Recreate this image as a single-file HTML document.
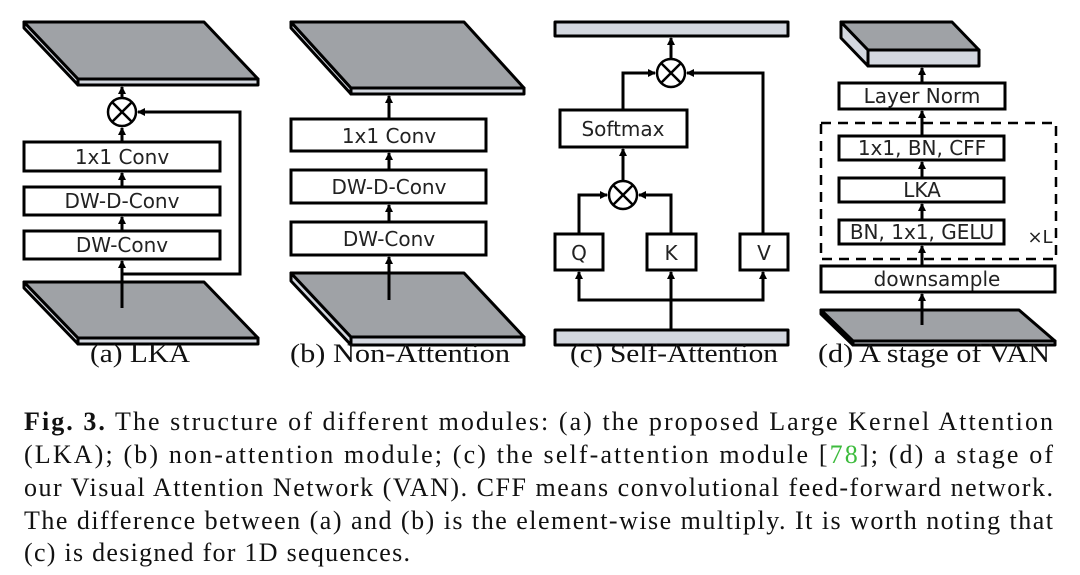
<!DOCTYPE html>
<html><head><meta charset="utf-8"><style>
html,body{margin:0;padding:0;background:#fff;}
svg{display:block;}
.b{font-family:"DejaVu Sans","Liberation Sans",sans-serif;font-size:20px;fill:#222;text-anchor:middle;}
.l{font-family:"Liberation Serif",serif;font-size:26px;fill:#111;}
.c{font-family:"Liberation Serif",serif;font-size:26px;fill:#111;}
</style></head><body>
<svg width="1080" height="575" viewBox="0 0 1080 575" xmlns="http://www.w3.org/2000/svg">
<defs><marker id="ar" markerWidth="8" markerHeight="8" refX="7" refY="4" orient="auto" markerUnits="userSpaceOnUse"><path d="M0,0 L8,4 L0,8 z" fill="#000"/></marker></defs>
<g stroke="#000" stroke-width="3" fill="none">
<g stroke-linejoin="round">
<path d="M24,22 L78,79 L78,85 L24,28 Z" fill="#d3d7df"/><rect x="78" y="79" width="180" height="6" fill="#d3d7df"/><path d="M24,22 L204,22 L258,79 L78,79 Z" fill="#9fa2a6"/>
<path d="M24,282 L78,338 L78,344 L24,288 Z" fill="#d3d7df"/><rect x="78" y="338" width="180" height="6" fill="#d3d7df"/><path d="M24,282 L204,282 L258,338 L78,338 Z" fill="#9fa2a6"/>
<path d="M291,22 L351,88 L351,94 L291,28 Z" fill="#d3d7df"/><rect x="351" y="88" width="173" height="6" fill="#d3d7df"/><path d="M291,22 L464,22 L524,88 L351,88 Z" fill="#9fa2a6"/>
<path d="M291,273 L351,337 L351,345 L291,281 Z" fill="#d3d7df"/><rect x="351" y="337" width="173" height="8" fill="#d3d7df"/><path d="M291,273 L464,273 L524,337 L351,337 Z" fill="#9fa2a6"/>
<rect x="555" y="22" width="233" height="14" fill="#d3d7df"/>
<rect x="555" y="330" width="233" height="15" fill="#d3d7df"/>
<path d="M841,22 L868,50 L868,66 L841,38 Z" fill="#d3d7df"/><rect x="868" y="50" width="111" height="16" fill="#d3d7df"/><path d="M841,22 L952,22 L979,50 L868,50 Z" fill="#9fa2a6"/>
<path d="M821,310 L853,341 L853,345 L821,314 Z" fill="#d3d7df"/><rect x="853" y="341" width="202" height="4" fill="#d3d7df"/><path d="M821,310 L1019,310 L1055,341 L853,341 Z" fill="#9fa2a6"/>
</g>
<rect x="24" y="142" width="196" height="29" fill="#fff"/>
<rect x="24" y="187" width="196" height="28" fill="#fff"/>
<rect x="24" y="231" width="196" height="28" fill="#fff"/>
<rect x="291" y="119" width="195" height="32" fill="#fff"/>
<rect x="291" y="170" width="195" height="33" fill="#fff"/>
<rect x="291" y="222" width="195" height="33" fill="#fff"/>
<rect x="560" y="110" width="127" height="37" fill="#fff"/>
<rect x="555" y="234" width="48" height="36" fill="#fff"/>
<rect x="647" y="234" width="49" height="36" fill="#fff"/>
<rect x="740" y="234" width="48" height="36" fill="#fff"/>
<rect x="839" y="83" width="166" height="26" fill="#fff"/>
<rect x="839" y="136" width="165" height="24" fill="#fff"/>
<rect x="839" y="178" width="165" height="24" fill="#fff"/>
<rect x="839" y="220" width="165" height="24" fill="#fff"/>
<rect x="821" y="266" width="234" height="26" fill="#fff"/>
<rect x="821" y="123" width="235" height="136" stroke-dasharray="10,7" stroke-width="2.5"/>
</g>
<g stroke="#000" stroke-width="3" fill="none" marker-end="url(#ar)">
<line x1="122" y1="308" x2="122" y2="261"/>
<line x1="122" y1="231" x2="122" y2="217"/>
<line x1="122" y1="187" x2="122" y2="173"/>
<line x1="122" y1="142" x2="122" y2="128"/>
<line x1="122" y1="97" x2="122" y2="87"/>
<polyline points="122,274 240,274 240,112 138,112"/>
<line x1="389" y1="300" x2="389" y2="257"/>
<line x1="389" y1="222" x2="389" y2="205"/>
<line x1="389" y1="170" x2="389" y2="153"/>
<line x1="389" y1="119" x2="389" y2="96"/>
<line x1="671" y1="330" x2="671" y2="272"/>
<polyline points="671,300 579,300 579,272"/>
<polyline points="671,300 763,300 763,272"/>
<polyline points="579,234 579,195 607,195"/>
<polyline points="671,234 671,195 639,195"/>
<line x1="623" y1="181" x2="623" y2="149"/>
<polyline points="623,110 623,73 655,73"/>
<polyline points="763,234 763,73 687,73"/>
<line x1="671" y1="59" x2="671" y2="38"/>
<line x1="922" y1="325" x2="922" y2="294"/>
<line x1="922" y1="266" x2="922" y2="246"/>
<line x1="922" y1="220" x2="922" y2="204"/>
<line x1="922" y1="178" x2="922" y2="162"/>
<line x1="922" y1="136" x2="922" y2="111"/>
<line x1="922" y1="83" x2="922" y2="68"/>
</g>
<g stroke="#000" stroke-width="2.5" fill="#fff">
<circle cx="122" cy="112" r="14"/><path d="M112,102 L132,122 M132,102 L112,122"/>
<circle cx="671" cy="73" r="14"/><path d="M661,63 L681,83 M681,63 L661,83"/>
<circle cx="623" cy="195" r="14"/><path d="M613,185 L633,205 M633,185 L613,205"/>
</g>
<text class="b" x="122" y="164">1x1 Conv</text>
<text class="b" x="122" y="208">DW-D-Conv</text>
<text class="b" x="122" y="252">DW-Conv</text>
<text class="b" x="389" y="143">1x1 Conv</text>
<text class="b" x="389" y="194">DW-D-Conv</text>
<text class="b" x="389" y="246">DW-Conv</text>
<text class="b" x="623" y="136">Softmax</text>
<text class="b" x="579" y="260">Q</text>
<text class="b" x="671" y="260">K</text>
<text class="b" x="764" y="260">V</text>
<text class="b" x="922" y="103">Layer Norm</text>
<text class="b" x="922" y="155">1x1, BN, CFF</text>
<text class="b" x="922" y="197">LKA</text>
<text class="b" x="922" y="239">BN, 1x1, GELU</text>
<text class="b" x="1040" y="243" style="font-size:18px">×L</text>
<text class="b" x="937" y="286">downsample</text>
<text class="l" x="90" y="362" textLength="100" lengthAdjust="spacingAndGlyphs">(a) LKA</text>
<text class="l" x="290" y="362" textLength="220" lengthAdjust="spacingAndGlyphs">(b) Non-Attention</text>
<text class="l" x="570" y="362" textLength="208" lengthAdjust="spacingAndGlyphs">(c) Self-Attention</text>
<text class="l" x="818" y="362" textLength="232" lengthAdjust="spacingAndGlyphs">(d) A stage of VAN</text>
<text class="c" x="24" y="430" textLength="1029" lengthAdjust="spacing"><tspan font-weight="bold">Fig. 3.</tspan> The structure of different modules: (a) the proposed Large Kernel Attention</text>
<text class="c" x="24" y="463" textLength="1029" lengthAdjust="spacing">(LKA); (b) non-attention module; (c) the self-attention module [<tspan fill="#3dbb3d">78</tspan>]; (d) a stage of</text>
<text class="c" x="24" y="496" textLength="1029" lengthAdjust="spacing">our Visual Attention Network (VAN). CFF means convolutional feed-forward network.</text>
<text class="c" x="24" y="529" textLength="1029" lengthAdjust="spacing">The difference between (a) and (b) is the element-wise multiply. It is worth noting that</text>
<text class="c" x="24" y="561" textLength="386" lengthAdjust="spacing">(c) is designed for 1D sequences.</text>
</svg>
</body></html>
